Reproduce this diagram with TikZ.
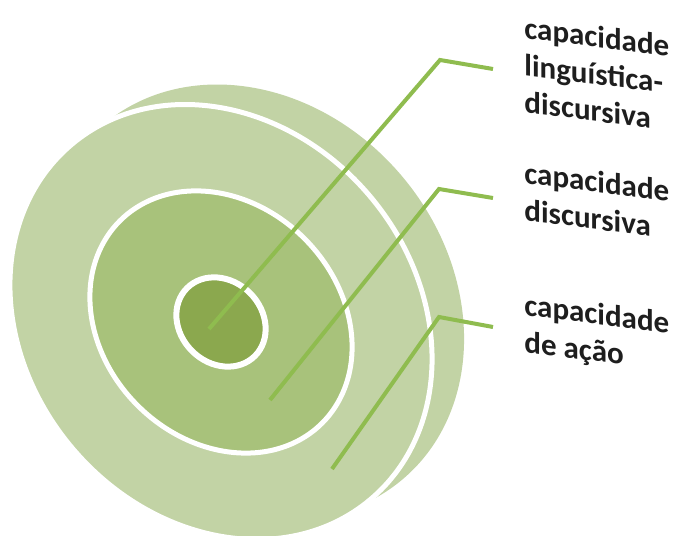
\documentclass[tikz,border=0pt]{standalone}
\usepackage{fontspec}
\setmainfont{Carlito}
\definecolor{ringouter}{HTML}{C2D3A5}
\definecolor{ringmid}{HTML}{A8C27B}
\definecolor{ringinner}{HTML}{8BA84E}
\definecolor{leadgreen}{HTML}{8FBC4F}
\definecolor{labeltext}{HTML}{1E1E1E}
\begin{document}
\begin{tikzpicture}[x=0.5pt,y=0.5pt,
    ringedge/.style={draw=white,line width=2.5pt},
    connector/.style={draw=leadgreen,line width=2pt},
    caption/.style={font=\bfseries\fontsize{15.5}{18.5}\selectfont,text=labeltext,
        align=left,inner sep=0pt,yslant=-0.13,anchor=base west}]

    \clip (0,0) rectangle (682,536);

    % back rim, then the three faces
    \fill[ringouter] (253,234) ellipse [x radius=232,y radius=195,rotate=-50];
    \filldraw[ringouter,ringedge] (221,214) ellipse [x radius=232,y radius=195,rotate=-50];
    \filldraw[ringmid,ringedge] (221,214) ellipse [x radius=143,y radius=118,rotate=-45];
    \filldraw[ringinner,ringedge,line width=3pt] (221,214) ellipse [x radius=48,y radius=41,rotate=-45];

    \coordinate (s1) at (209,207);
    \coordinate (k1) at (440,476);
    \coordinate (e1) at (493,467);
    \coordinate (s2) at (270,136);
    \coordinate (k2) at (439,347);
    \coordinate (e2) at (493,338);
    \coordinate (s3) at (332,67);
    \coordinate (k3) at (439,219);
    \coordinate (e3) at (493,209);

    \draw[connector] (s1) -- (k1) -- (e1);
    \draw[connector] (s2) -- (k2) -- (e2);
    \draw[connector] (s3) -- (k3) -- (e3);

    % base anchor sits on the last line
    \node[caption] (lingdisc) at (524,424) {capacidade\\linguística-\\discursiva};
    \node[caption] (disc) at (524,316) {capacidade\\discursiva};
    \node[caption] (acao) at (524,184) {capacidade\\de ação};

\end{tikzpicture}
\end{document}
